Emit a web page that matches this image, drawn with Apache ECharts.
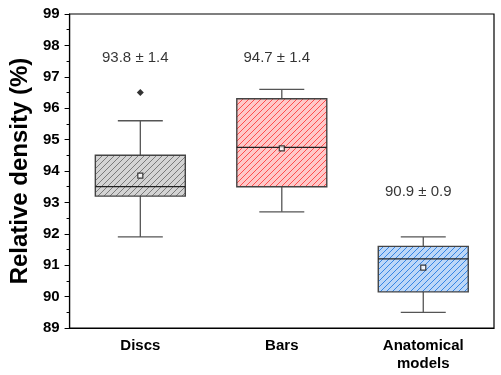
<!DOCTYPE html>
<html>
<head>
<meta charset="utf-8">
<script src="https://cdn.jsdelivr.net/npm/echarts@6/dist/echarts.min.js"></script>
<style>
  html, body { margin: 0; padding: 0; background: #fff; }
  #chart { width: 501px; height: 375px; }
</style>
</head>
<body>
<div id="chart"></div>
<script>
// values
var categories = ["Discs", "Bars", "Anatomical\nmodels"];
var whiskerLow = [91.9, 92.7, 89.5];
var q1 = [93.2, 93.5, 90.15];
var median = [93.5, 94.75, 91.2];
var q3 = [94.5, 96.3, 91.6];
var whiskerHigh = [95.6, 96.6, 91.9];
var means = [93.85, 94.72, 90.92];
var outliers = [[0, 96.5]];
var annotations = ["93.8 ± 1.4", "94.7 ± 1.4", "90.9 ± 0.9"];
var annotationY = [97.6, 97.6, 93.33];

var FONT = "'Liberation Sans', Arial, sans-serif";

// hatched fills
function hatch(bg, fg) {
  var c = document.createElement("canvas");
  c.width = 6;
  c.height = 6;
  var ctx = c.getContext("2d");
  ctx.fillStyle = bg;
  ctx.fillRect(0, 0, 6, 6);
  ctx.strokeStyle = fg;
  ctx.lineWidth = 1;
  ctx.beginPath();
  ctx.moveTo(-1, 7); ctx.lineTo(7, -1);
  ctx.moveTo(-1, 1); ctx.lineTo(1, -1);
  ctx.moveTo(5, 7); ctx.lineTo(7, 5);
  ctx.stroke();
  return { image: c, repeat: "repeat" };
}
var fills = [
  hatch("#d4d4d4", "#7a7a7a"),
  hatch("#ffc9c9", "#ff4e4e"),
  hatch("#bcd7f8", "#3585e4")
];

var boxData = categories.map(function (c, i) {
  return [i, whiskerLow[i], q1[i], median[i], q3[i], whiskerHigh[i]];
});
var meanData = means.map(function (v, i) { return [i, v]; });
var labelData = annotations.map(function (t, i) {
  return { value: [i, annotationY[i]], name: t };
});

var chart = echarts.init(document.getElementById("chart"));

var option = {
  animation: false,
  grid: {
    left: 65, right: 7, top: 14, bottom: 47,
    show: true, borderColor: "#000", borderWidth: 1.2
  },
  xAxis: {
    type: "category",
    data: categories,
    axisLine: { lineStyle: { color: "#000", width: 1.2 } },
    axisTick: { alignWithLabel: true, length: 5, lineStyle: { color: "#000" } },
    axisLabel: {
      color: "#000", fontWeight: "bold", fontSize: 15, fontFamily: FONT,
      margin: 9, lineHeight: 18
    },
    splitLine: { show: false }
  },
  yAxis: {
    type: "value",
    min: 89,
    max: 99,
    interval: 1,
    name: "Relative density (%)",
    nameLocation: "middle",
    nameGap: 34,
    nameTextStyle: { color: "#000", fontWeight: "bold", fontSize: 24, fontFamily: FONT },
    axisLine: { show: true, lineStyle: { color: "#000", width: 1.2 } },
    axisTick: { show: true, length: 5, lineStyle: { color: "#000" } },
    minorTick: { show: true, splitNumber: 2, length: 3, lineStyle: { color: "#000" } },
    axisLabel: { color: "#000", fontWeight: "bold", fontSize: 15, fontFamily: FONT, margin: 10 },
    splitLine: { show: false }
  },
  series: [
    {
      type: "custom",
      data: boxData,
      encode: { x: 0, y: [1, 2, 3, 4, 5] },
      z: 2,
      renderItem: function (params, api) {
        var i = api.value(0);
        var pLow = api.coord([i, api.value(1)]);
        var pQ1 = api.coord([i, api.value(2)]);
        var pMed = api.coord([i, api.value(3)]);
        var pQ3 = api.coord([i, api.value(4)]);
        var pHigh = api.coord([i, api.value(5)]);
        var band = api.size([1, 0])[0];
        var bw = band * 0.636;
        var cap = bw * 0.5;
        var cx = pMed[0];
        var line = { stroke: "#555", lineWidth: 1.3 };
        return {
          type: "group",
          children: [
            { type: "line", shape: { x1: cx, y1: pQ3[1], x2: cx, y2: pHigh[1] }, style: line },
            { type: "line", shape: { x1: cx, y1: pQ1[1], x2: cx, y2: pLow[1] }, style: line },
            { type: "line", shape: { x1: cx - cap / 2, y1: pHigh[1], x2: cx + cap / 2, y2: pHigh[1] }, style: line },
            { type: "line", shape: { x1: cx - cap / 2, y1: pLow[1], x2: cx + cap / 2, y2: pLow[1] }, style: line },
            {
              type: "rect",
              shape: { x: cx - bw / 2, y: pQ3[1], width: bw, height: pQ1[1] - pQ3[1] },
              style: { fill: fills[i], stroke: "#444", lineWidth: 1.4 }
            },
            { type: "line", shape: { x1: cx - bw / 2, y1: pMed[1], x2: cx + bw / 2, y2: pMed[1] }, style: { stroke: "#222", lineWidth: 1.2 } }
          ]
        };
      }
    },
    {
      type: "scatter",
      data: meanData,
      symbol: "rect",
      symbolSize: 5,
      z: 5,
      itemStyle: { color: "#fff", borderColor: "#111", borderWidth: 1.2 }
    },
    {
      type: "scatter",
      data: outliers,
      symbol: "diamond",
      symbolSize: 7,
      z: 5,
      itemStyle: { color: "#000" }
    },
    {
      type: "scatter",
      data: labelData,
      symbolSize: 1,
      z: 6,
      itemStyle: { color: "rgba(0,0,0,0)" },
      label: {
        show: true,
        position: "inside",
        offset: [-5, 0],
        formatter: "{b}",
        color: "#000",
        fontSize: 15,
        fontFamily: FONT
      }
    }
  ]
};

chart.setOption(option);
</script>
</body>
</html>
